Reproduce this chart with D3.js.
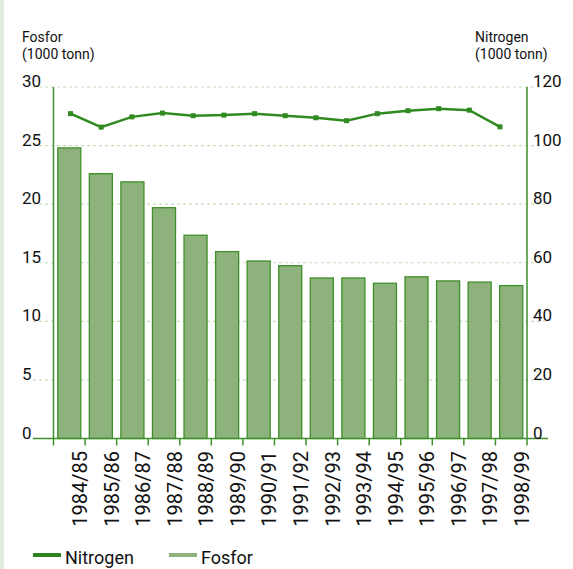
<!DOCTYPE html>
<html>
<head>
<meta charset="utf-8">
<script src="https://cdn.jsdelivr.net/npm/d3@7/dist/d3.min.js"></script>
<style>
  body { margin: 0; background: #fff; }
  text { font-family: Roboto, 'Noto Sans', sans-serif; fill: #111; }
</style>
</head>
<body>
<script>
const seasons = ['1984/85', '1985/86', '1986/87', '1987/88', '1988/89', '1989/90', '1990/91',
  '1991/92', '1992/93', '1993/94', '1994/95', '1995/96', '1996/97', '1997/98', '1998/99']
const fosfor = [24.8, 22.6, 21.9, 19.7, 17.35, 15.95, 15.15, 14.75, 13.7, 13.7, 13.25, 13.8, 13.45, 13.35, 13.05]
const nitrogen = [110.9, 106.3, 109.8, 111.1, 110.2, 110.4, 110.9, 110.2, 109.5, 108.5, 110.9, 111.9, 112.6, 112.1, 106.4]
const leftTicks = [0, 5, 10, 15, 20, 25, 30]
const rightTicks = [0, 20, 40, 60, 80, 100, 120]

const width = 573
const height = 569
const plotLeft = 53.5
const plotRight = 527
const plotTop = 87
const plotBottom = 438.5

const barFill = '#8db27b'
const barStroke = '#3f8f2a'
const lineColor = '#2f8a1f'
const gridColor = '#c7dbb9'

const svg = d3.select('body')
  .append('svg')
  .attr('width', width)
  .attr('height', height)

// light strip at the left edge
svg.append('rect')
  .attr('x', 0).attr('y', 0)
  .attr('width', 4).attr('height', height)
  .attr('fill', '#e2ebdc')

const x = d3.scaleBand()
  .domain(seasons)
  .range([plotLeft, plotRight])
  .paddingInner(0.27)
  .paddingOuter(0.135)
const step = x.step()

// the line markers sit a little left of the bar centres in the original
const xLine = d3.scalePoint()
  .domain(seasons)
  .range([plotLeft + 17, plotRight - 27])

const yL = d3.scaleLinear().domain([0, 30]).range([plotBottom, plotTop])
const yR = d3.scaleLinear().domain([0, 120]).range([plotBottom, plotTop])

// gridlines
svg.append('g')
  .selectAll('line')
  .data(leftTicks.slice(1))
  .enter()
  .append('line')
  .attr('x1', 33)
  .attr('x2', 545)
  .attr('y1', d => yL(d))
  .attr('y2', d => yL(d))
  .attr('stroke', gridColor)
  .attr('stroke-width', 1.2)
  .attr('stroke-dasharray', '3,3')

// bars
svg.append('g')
  .selectAll('rect')
  .data(fosfor)
  .enter()
  .append('rect')
  .attr('x', (d, i) => x(seasons[i]))
  .attr('y', d => yL(d))
  .attr('width', x.bandwidth())
  .attr('height', d => yL(0) - yL(d))
  .attr('fill', barFill)
  .attr('stroke', barStroke)
  .attr('stroke-width', 1.3)

// axis lines
const axisG = svg.append('g').attr('stroke', barStroke).attr('stroke-width', 1.5)
axisG.append('line').attr('x1', plotLeft).attr('x2', plotLeft).attr('y1', plotTop).attr('y2', plotBottom + 7)
axisG.append('line').attr('x1', plotRight).attr('x2', plotRight).attr('y1', plotTop).attr('y2', plotBottom + 7)
axisG.append('line').attr('x1', 33).attr('x2', 548).attr('y1', plotBottom).attr('y2', plotBottom)
axisG.selectAll('line.tick')
  .data(d3.range(1, seasons.length))
  .enter()
  .append('line')
  .attr('class', 'tick')
  .attr('x1', i => plotLeft + i * step)
  .attr('x2', i => plotLeft + i * step)
  .attr('y1', plotBottom)
  .attr('y2', plotBottom + 7)

// nitrogen line
svg.append('path')
  .datum(nitrogen)
  .attr('d', d3.line().x((d, i) => xLine(seasons[i])).y(d => yR(d)))
  .attr('fill', 'none')
  .attr('stroke', lineColor)
  .attr('stroke-width', 2.5)
svg.append('g')
  .selectAll('rect')
  .data(nitrogen)
  .enter()
  .append('rect')
  .attr('x', (d, i) => xLine(seasons[i]) - 2.5)
  .attr('y', d => yR(d) - 2.5)
  .attr('width', 5)
  .attr('height', 5)
  .attr('fill', lineColor)

// tick labels
svg.append('g')
  .selectAll('text')
  .data(leftTicks)
  .enter()
  .append('text')
  .attr('x', 22)
  .attr('y', d => yL(d))
  .attr('font-size', 17)
  .text(d => d)

svg.append('g')
  .selectAll('text')
  .data(rightTicks)
  .enter()
  .append('text')
  .attr('x', 533)
  .attr('y', d => yR(d))
  .attr('font-size', 17)
  .text(d => d)

svg.append('g')
  .selectAll('text')
  .data(seasons)
  .enter()
  .append('text')
  .attr('transform', d => `translate(${x(d) + x.bandwidth() + step * 0.135 + 2}, 451) rotate(-90)`)
  .attr('text-anchor', 'end')
  .attr('font-size', 20)
  .text(d => d)

// axis titles
const titles = [
  { x: 22, lines: ['Fosfor', '(1000 tonn)'] },
  { x: 475, lines: ['Nitrogen', '(1000 tonn)'] }
]
titles.forEach(t => {
  t.lines.forEach((s, i) => {
    svg.append('text')
      .attr('x', t.x)
      .attr('y', 42 + i * 17)
      .attr('font-size', 14)
      .text(s)
  })
})

// legend
const legend = [
  { name: 'Nitrogen', color: '#2e831d', x: 33 },
  { name: 'Fosfor', color: barFill, x: 169 }
]
legend.forEach(l => {
  svg.append('rect')
    .attr('x', l.x).attr('y', 553)
    .attr('width', 28).attr('height', 4)
    .attr('fill', l.color)
  svg.append('text')
    .attr('x', l.x + 32)
    .attr('y', 564)
    .attr('font-size', 18)
    .text(l.name)
})
</script>
</body>
</html>
